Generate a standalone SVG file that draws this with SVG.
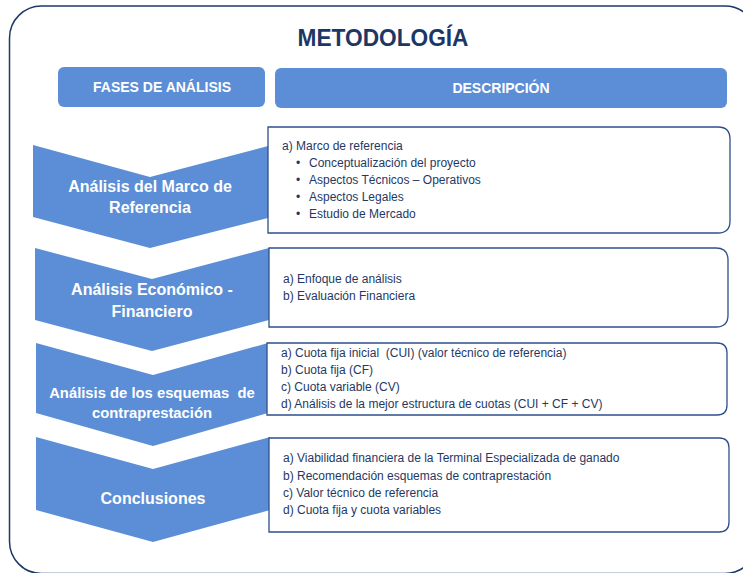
<svg xmlns="http://www.w3.org/2000/svg" width="743" height="573" viewBox="0 0 743 573">
<style>
text{white-space:pre}
.frame{fill:#ffffff;stroke:#1f3864;stroke-width:1.5}
.hdr{fill:#5b8ed6}
.hdrt{fill:#ffffff;font-family:"Liberation Sans",Arial,sans-serif;font-weight:bold;font-size:14px;text-anchor:middle}
.chev{fill:#5b8ed6}
.chevt{fill:#ffffff;font-family:"Liberation Sans",Arial,sans-serif;font-weight:bold;font-size:16px;text-anchor:middle}
.box{fill:#ffffff;stroke:#2f4f8a;stroke-width:1.3}
.dt{fill:#1f3864;font-family:"Liberation Sans",Arial,sans-serif;font-size:12px}
.title{fill:#1c3766;font-family:"Liberation Sans",Arial,sans-serif;font-weight:bold;font-size:24px;text-anchor:middle}
</style>
<rect class="frame" x="9.5" y="6" width="747.5" height="567.5" rx="32"/>
<text class="title" x="383" y="46" textLength="171" lengthAdjust="spacingAndGlyphs">METODOLOGÍA</text>

<g id="header-fases">
<rect class="hdr" x="58" y="67" width="207" height="40" rx="6"/>
<text class="hdrt" x="162" y="92">FASES DE ANÁLISIS</text>
</g>
<g id="header-descripcion">
<rect class="hdr" x="275" y="68" width="452" height="40" rx="6"/>
<text class="hdrt" x="501" y="93">DESCRIPCIÓN</text>
</g>

<g id="fase1">
<path class="chev" d="M33,145 L150,177 L268,146 L268,218 L150,248 L33,217 Z"/>
<text class="chevt" x="150" y="192">Análisis del Marco de</text>
<text class="chevt" x="150" y="213">Referencia</text>
</g>
<g id="fase2">
<path class="chev" d="M35,248 L152,279 L269,248 L269,320 L152,351 L35,320 Z"/>
<text class="chevt" x="152" y="295">Análisis Económico -</text>
<text class="chevt" x="152" y="317">Financiero</text>
</g>
<g id="fase3">
<path class="chev" d="M36,343 L153,375 L268,343 L268,413 L153,446 L36,413 Z"/>
<text class="chevt" x="152" y="398" style="font-size:14.8px">Análisis de los esquemas  de</text>
<text class="chevt" x="152" y="418" style="font-size:14.8px">contraprestación</text>
</g>
<g id="fase4">
<path class="chev" d="M36,437 L153,469 L270,437 L270,510 L153,542 L36,510 Z"/>
<text class="chevt" x="153" y="504">Conclusiones</text>
</g>

<g id="desc1">
<path class="box" d="M268,127 H718 Q730,127 730,139 V221 Q730,233 718,233 H268 Z"/>
<text class="dt" x="282" y="150">a) Marco de referencia</text>
<text class="dt" x="296" y="167">•</text><text class="dt" x="309" y="167">Conceptualización del proyecto</text>
<text class="dt" x="296" y="184">•</text><text class="dt" x="309" y="184">Aspectos Técnicos – Operativos</text>
<text class="dt" x="296" y="201">•</text><text class="dt" x="309" y="201">Aspectos Legales</text>
<text class="dt" x="296" y="218">•</text><text class="dt" x="309" y="218">Estudio de Mercado</text>
</g>
<g id="desc2">
<path class="box" d="M269,248 H716 Q728,248 728,260 V315 Q728,327 716,327 H269 Z"/>
<text class="dt" x="283" y="283">a) Enfoque de análisis</text>
<text class="dt" x="283" y="300">b) Evaluación Financiera</text>
</g>
<g id="desc3">
<path class="box" d="M267,343 H717 Q727,343 727,353 V405 Q727,415 717,415 H267 Z"/>
<text class="dt" x="281" y="357">a) Cuota fija inicial  (CUI) (valor técnico de referencia)</text>
<text class="dt" x="281" y="374">b) Cuota fija (CF)</text>
<text class="dt" x="281" y="391">c) Cuota variable (CV)</text>
<text class="dt" x="281" y="408">d) Análisis de la mejor estructura de cuotas (CUI + CF + CV)</text>
</g>
<g id="desc4">
<path class="box" d="M269,438 H719 Q729,438 729,448 V522 Q729,532 719,532 H269 Z"/>
<text class="dt" x="283" y="462">a) Viabilidad financiera de la Terminal Especializada de ganado</text>
<text class="dt" x="283" y="480">b) Recomendación esquemas de contraprestación</text>
<text class="dt" x="283" y="497">c) Valor técnico de referencia</text>
<text class="dt" x="283" y="514">d) Cuota fija y cuota variables</text>
</g>
<g id="connectors"></g>
</svg>
